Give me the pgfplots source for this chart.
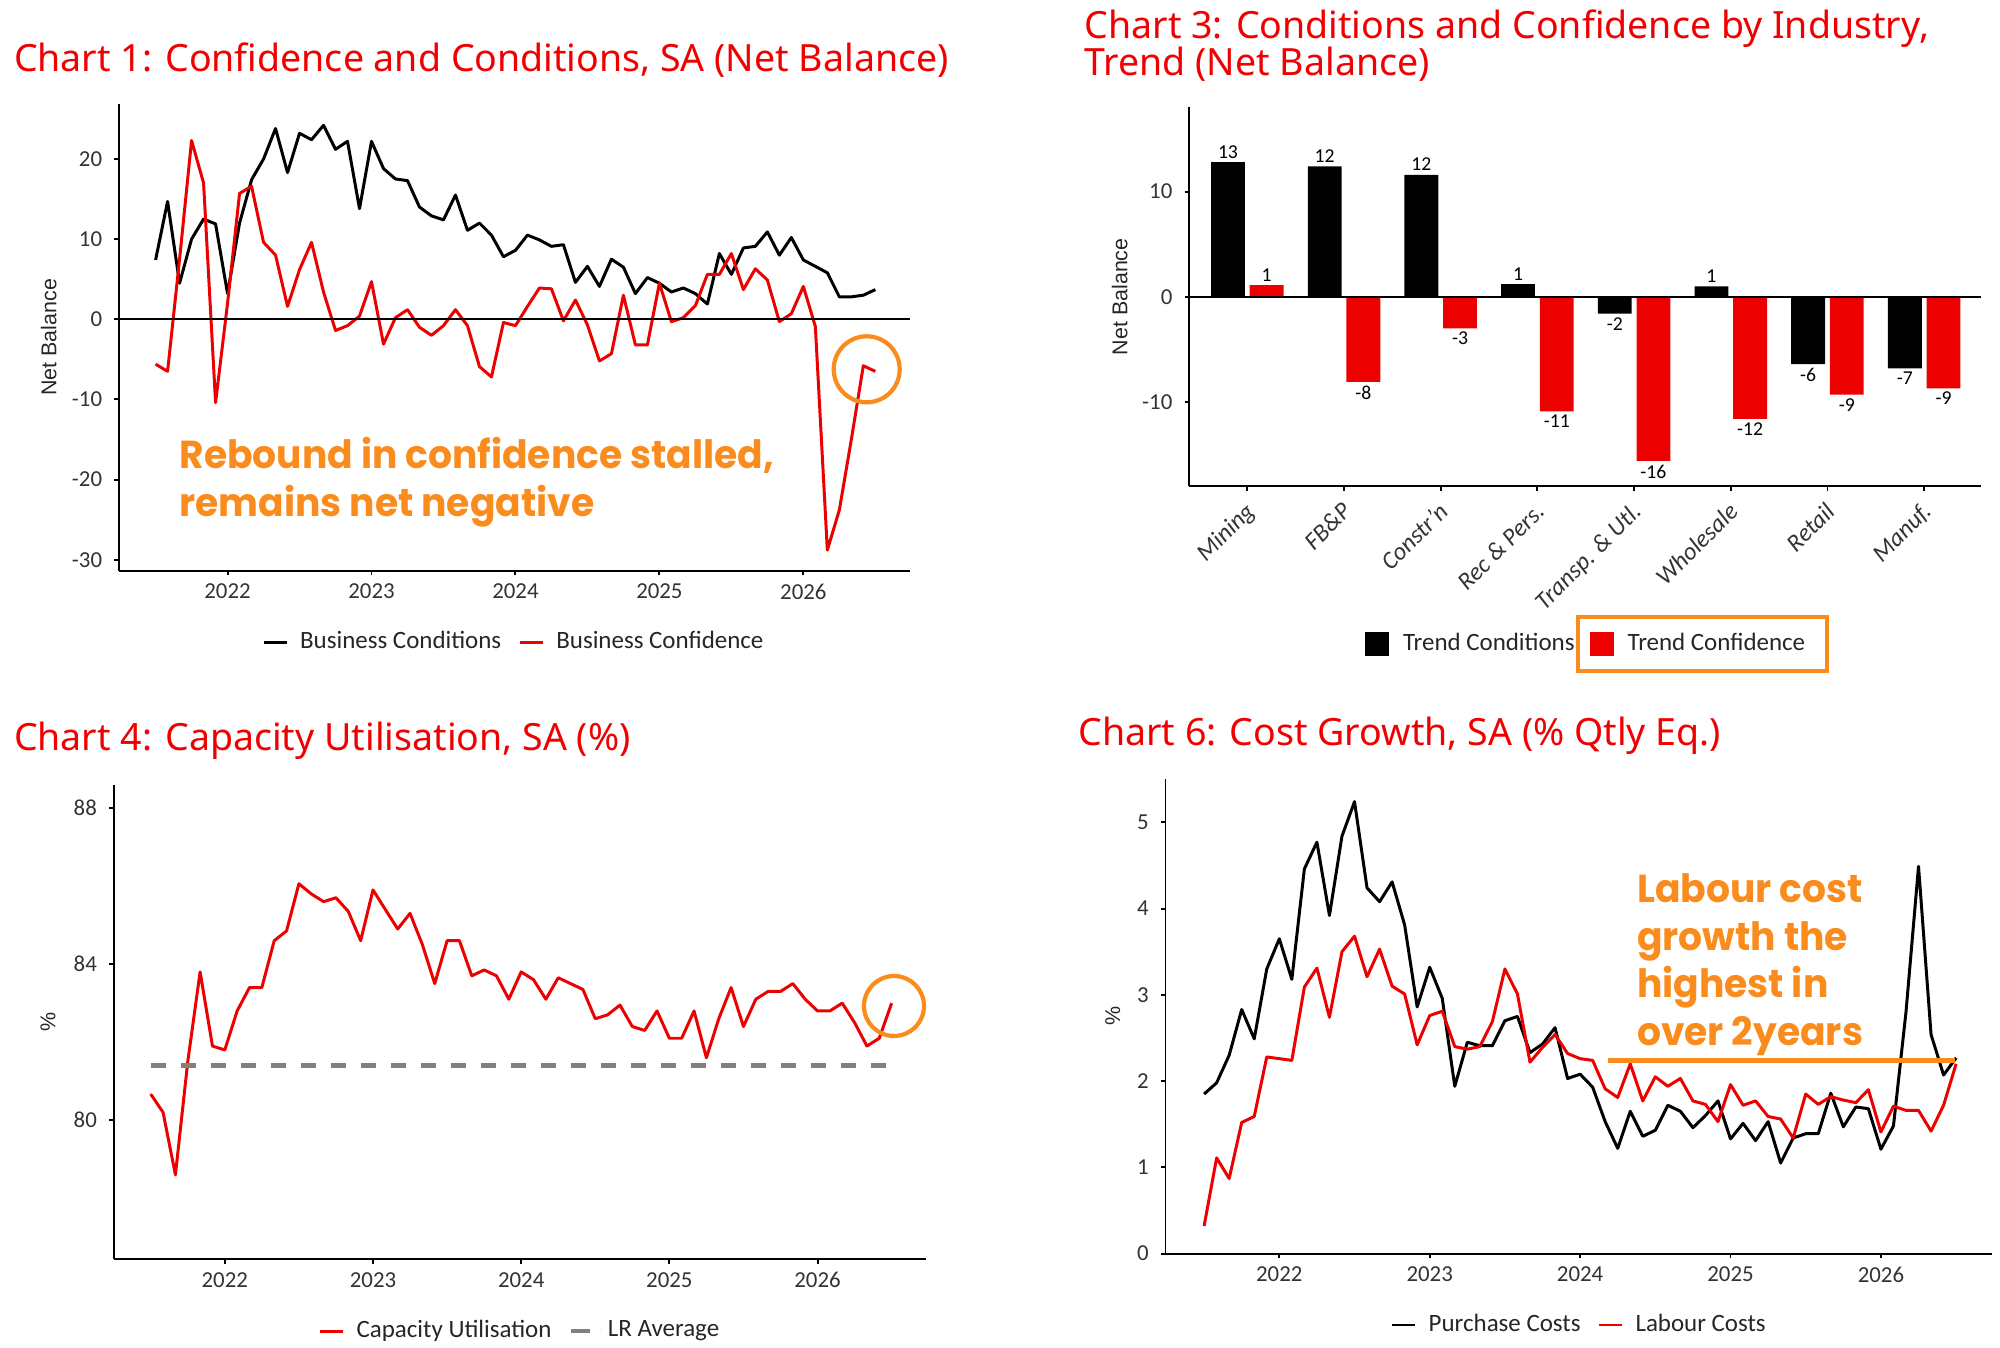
\documentclass[border=0pt]{standalone}
\usepackage{fontspec}
\usepackage{pgfplots}
\usepackage{pgfplotstable}
\pgfplotsset{compat=1.18}
\usepackage{graphicx}
\setmainfont{Carlito}
\newfontfamily\titlefont{Noto Sans}
\newfontfamily\annofont{Poppins}
\newfontfamily\arialfont{Liberation Sans}
\definecolor{cred}{RGB}{236,0,0}
\definecolor{tred}{RGB}{240,0,0}
\definecolor{corange}{RGB}{250,140,30}
\definecolor{cgray}{RGB}{128,128,128}
\newcommand\tickfont{\fontsize{6.5pt}{7pt}\selectfont}
\newcommand\legfont{\fontsize{7.1pt}{8pt}\selectfont}
\newcommand\valfont{\fontsize{5.6pt}{6pt}\selectfont}
\newcommand\ylabfont{\arialfont\fontsize{6.1pt}{7pt}\selectfont}
\newcommand\titlesz{\titlefont\fontsize{10.68pt}{12pt}\selectfont}
\newcommand\annosz{\annofont\bfseries\fontsize{11.1pt}{12pt}\selectfont}
\newcommand\anno[1]{\scalebox{0.965}[1]{#1}}

\pgfplotstableread{
i v
0 7.4
1 14.7
2 4.5
3 10.0
4 12.5
5 11.9
6 3.2
7 12.0
8 17.4
9 20.0
10 23.8
11 18.3
12 23.2
13 22.4
14 24.2
15 21.2
16 22.2
17 13.8
18 22.2
19 18.8
20 17.5
21 17.3
22 14.0
23 12.9
24 12.4
25 15.5
26 11.1
27 12.0
28 10.5
29 7.8
30 8.6
31 10.5
32 9.9
33 9.1
34 9.3
35 4.6
36 6.6
37 4.1
38 7.5
39 6.5
40 3.2
41 5.2
42 4.5
43 3.4
44 3.9
45 3.2
46 1.9
47 8.2
48 5.6
49 8.9
50 9.1
51 10.9
52 8.0
53 10.2
54 7.4
55 6.6
56 5.8
57 2.8
58 2.8
59 3.0
60 3.7
}\cbc

\pgfplotstableread{
i v
0 -5.6
1 -6.5
2 7.5
3 22.3
4 17.0
5 -10.4
6 2.0
7 15.7
8 16.6
9 9.6
10 8.0
11 1.6
12 6.2
13 9.6
14 3.4
15 -1.4
16 -0.8
17 0.4
18 4.7
19 -3.1
20 0.2
21 1.2
22 -1.0
23 -2.0
24 -0.8
25 1.2
26 -0.8
27 -5.9
28 -7.2
29 -0.4
30 -0.8
31 1.6
32 3.9
33 3.8
34 -0.2
35 2.4
36 -0.7
37 -5.2
38 -4.3
39 3.0
40 -3.2
41 -3.2
42 4.5
43 -0.3
44 0.2
45 1.7
46 5.6
47 5.6
48 8.2
49 3.7
50 6.3
51 4.9
52 -0.3
53 0.7
54 4.1
55 -0.9
56 -28.8
57 -23.8
58 -15.0
59 -5.8
60 -6.5
}\cbf

\pgfplotstableread{
i v
0 80.67
1 80.2
2 78.6
3 81.5
4 83.8
5 81.9
6 81.8
7 82.8
8 83.4
9 83.4
10 84.6
11 84.85
12 86.06
13 85.8
14 85.6
15 85.7
16 85.35
17 84.6
18 85.9
19 85.4
20 84.9
21 85.3
22 84.5
23 83.5
24 84.6
25 84.6
26 83.7
27 83.85
28 83.7
29 83.1
30 83.8
31 83.6
32 83.1
33 83.65
34 83.5
35 83.35
36 82.6
37 82.7
38 82.95
39 82.4
40 82.3
41 82.8
42 82.1
43 82.1
44 82.8
45 81.6
46 82.6
47 83.4
48 82.4
49 83.1
50 83.3
51 83.3
52 83.5
53 83.1
54 82.8
55 82.8
56 83.0
57 82.5
58 81.9
59 82.1
60 83.0
}\cu

\pgfplotstableread{
i v
0 1.85
1 1.98
2 2.30
3 2.83
4 2.49
5 3.30
6 3.65
7 3.18
8 4.46
9 4.77
10 3.92
11 4.84
12 5.24
13 4.24
14 4.08
15 4.31
16 3.81
17 2.86
18 3.32
19 2.96
20 1.94
21 2.45
22 2.41
23 2.41
24 2.70
25 2.75
26 2.33
27 2.43
28 2.62
29 2.03
30 2.08
31 1.93
32 1.53
33 1.22
34 1.65
35 1.36
36 1.43
37 1.72
38 1.65
39 1.46
40 1.60
41 1.77
42 1.33
43 1.51
44 1.31
45 1.53
46 1.05
47 1.34
48 1.39
49 1.39
50 1.86
51 1.47
52 1.70
53 1.68
54 1.21
55 1.48
56 2.80
57 4.49
58 2.54
59 2.07
60 2.27
}\pc

\pgfplotstableread{
i v
0 0.32
1 1.11
2 0.87
3 1.52
4 1.59
5 2.28
6 2.26
7 2.24
8 3.09
9 3.31
10 2.74
11 3.50
12 3.68
13 3.21
14 3.53
15 3.10
16 3.01
17 2.42
18 2.76
19 2.81
20 2.40
21 2.37
22 2.40
23 2.69
24 3.30
25 3.01
26 2.22
27 2.39
28 2.54
29 2.32
30 2.26
31 2.24
32 1.91
33 1.81
34 2.20
35 1.77
36 2.05
37 1.94
38 2.03
39 1.77
40 1.73
41 1.53
42 1.96
43 1.72
44 1.77
45 1.59
46 1.56
47 1.34
48 1.85
49 1.73
50 1.82
51 1.78
52 1.75
53 1.90
54 1.41
55 1.71
56 1.66
57 1.66
58 1.42
59 1.72
60 2.20
}\lc

\pgfplotsset{
  gg/.style={
    scale only axis,
    anchor=south west,
    axis lines*=left,
    axis line style={line width=0.55pt, black},
    tick align=outside,
    major tick length=0.045cm,
    tick style={line width=0.55pt, black},
    tick label style={font=\tickfont, text=black!80},
    xticklabel style={yshift=0.035cm},
    legend style={draw=none, fill=none, font=\legfont, anchor=center, inner sep=0pt,
      nodes={inner sep=0.05cm, text=black!85},
      /tikz/every even column/.append style={column sep=0.12cm}},
    legend cell align=left,
    legend columns=2,
    legend image code/.code={\draw[##1] (0cm,0cm) -- (0.23cm,0cm); \path (0.30cm,0cm);},
    every axis y label/.style={rotate=90, anchor=center, font=\ylabfont, text=black!85},
    clip=false,
  },
}

\begin{document}
\begin{tikzpicture}[x=1cm,y=1cm]
\path (0,0) rectangle (20,13.47);

% ---------------- Chart 1 ----------------
\node[anchor=base west, inner sep=0, text=tred, font=\titlesz] at (0.133,12.753) {Chart 1: Confidence and Conditions, SA (Net Balance)};
\begin{axis}[gg, at={(1.19cm,7.763cm)}, width=7.91cm, height=4.667cm,
  xmin=-3.05, xmax=62.89, ymin=-31.37, ymax=26.86,
  xtick={6,18,30,42,54}, xticklabels={2022,2023,2024,2025,2026},
  ytick={-30,-20,-10,0,10,20}, yticklabels={-30,-20,-10,0,10,20},
  ylabel={Net Balance}, ylabel style={at={(axis description cs:-0.0889,0.5)}},
  legend style={at={(0.501,-0.153)}},
]
\addplot[black, line width=0.85pt, line join=round] table[x=i,y=v] {\cbc};
\addlegendentry{Business Conditions}
\addplot[cred, line width=0.85pt, line join=round] table[x=i,y=v] {\cbf};
\addlegendentry{Business Confidence}
\draw[black, line width=0.55pt] (axis cs:-3.05,0) -- (axis cs:62.89,0);
\end{axis}
\node[anchor=base west, inner sep=0, text=corange, font=\annosz] at (1.788,8.787) {\anno{Rebound in confidence stalled,}};
\node[anchor=base west, inner sep=0, text=corange, font=\annosz] at (1.788,8.303) {\anno{remains net negative}};
\draw[corange, line width=1.2pt] (8.667,9.777) circle (0.33);

% ---------------- Chart 3 ----------------
\node[anchor=base west, inner sep=0, text=tred, font=\titlesz] at (10.84,13.082) {Chart 3: Conditions and Confidence by Industry,};
\node[anchor=base west, inner sep=0, text=tred, font=\titlesz] at (10.84,12.712) {Trend (Net Balance)};
\begin{axis}[gg, at={(11.893cm,8.609cm)}, width=7.919cm, height=3.786cm,
  xmin=-0.6, xmax=7.59, ymin=-18, ymax=18,
  xtick={0,1,2,3,4,5,6,7},
  xticklabels={Mining,FB\&P,Constr'n,Rec \& Pers.,Transp. \& Utl.,Wholesale,Retail,Manuf.},
  xticklabel style={rotate=45, anchor=north east, yshift=0.05cm, font={\fontsize{7pt}{8pt}\selectfont\itshape}},
  ytick={-10,0,10}, yticklabels={-10,0,10},
  ylabel={Net Balance}, ylabel style={at={(axis description cs:-0.088,0.5)}},
  legend style={at={(0.503,-0.417)}, /tikz/every even column/.append style={column sep=0.1cm}},
  legend image code/.code={\fill[#1] (0cm,-0.12cm) rectangle (0.24cm,0.12cm); \path (0.33cm,0cm);},
  point meta=y,
  nodes near coords={\pgfmathprintnumber[fixed, precision=0, assume math mode=true]{\pgfplotspointmeta}},
  nodes near coords align={vertical},
  every node near coord/.append style={font=\valfont, inner sep=0.9pt, text=black},
]
% bars plotted at category position -0.2 (conditions) and +0.2 (confidence)
\addplot[ybar, bar width=0.35, bar shift=0, fill=black, draw=none] coordinates {
(-0.2,12.8) (0.8,12.4) (1.8,11.6) (2.8,1.2) (3.8,-1.6) (4.8,1.0) (5.8,-6.4) (6.8,-6.8)};
\addlegendentry{Trend Conditions}
\addplot[ybar, bar width=0.35, bar shift=0, fill=cred, draw=none] coordinates {
(0.2,1.1) (1.2,-8.1) (2.2,-3.0) (3.2,-10.9) (4.2,-15.6) (5.2,-11.6) (6.2,-9.3) (7.2,-8.7)};
\addlegendentry{Trend Confidence}
\draw[black, line width=0.55pt] (axis cs:-0.6,0) -- (axis cs:7.59,0);
\end{axis}
\draw[corange, line width=1.4pt] (15.78,7.30) rectangle (18.27,6.76);

% ---------------- Chart 4 ----------------
\node[anchor=base west, inner sep=0, text=tred, font=\titlesz] at (0.133,5.965) {Chart 4: Capacity Utilisation, SA (\%)};
\begin{axis}[gg, at={(1.138cm,0.879cm)}, width=8.119cm, height=4.737cm,
  xmin=-2.99, xmax=62.76, ymin=76.44, ymax=88.58,
  xtick={6,18,30,42,54}, xticklabels={2022,2023,2024,2025,2026},
  ytick={80,84,88}, yticklabels={80,84,88},
  ylabel={\%}, ylabel style={at={(axis description cs:-0.081,0.5)}},
  legend style={at={(0.502,-0.152)}},
]
\addplot[cred, line width=0.85pt, line join=round] table[x=i,y=v] {\cu};
\addlegendentry{Capacity Utilisation}
\addplot[cgray, line width=1.25pt, dash pattern=on 0.15cm off 0.15cm,
  legend image code/.code={\path (0cm,0cm) -- (0.30cm,0cm); \draw[cgray, line width=1.25pt] (0.05cm,0cm) -- (0.19cm,0cm);}]
  coordinates {(0,81.4) (60,81.4)};
\addlegendentry{LR Average}
\end{axis}
\draw[corange, line width=1.2pt] (8.94,3.41) circle (0.30);

% ---------------- Chart 6 ----------------
\node[anchor=base west, inner sep=0, text=tred, font=\titlesz] at (10.778,6.016) {Chart 6: Cost Growth, SA (\% Qtly Eq.)};
\begin{axis}[gg, at={(11.655cm,0.934cm)}, width=8.262cm, height=4.744cm,
  xmin=-3.08, xmax=62.84, ymin=0, ymax=5.5,
  xtick={6,18,30,42,54}, xticklabels={2022,2023,2024,2025,2026},
  ytick={0,1,2,3,4,5}, yticklabels={0,1,2,3,4,5},
  ylabel={\%}, ylabel style={at={(axis description cs:-0.064,0.5)}},
  legend style={at={(0.5026,-0.1505)}},
]
\addplot[black, line width=0.85pt, line join=round] table[x=i,y=v] {\pc};
\addlegendentry{Purchase Costs}
\addplot[cred, line width=0.85pt, line join=round] table[x=i,y=v] {\lc};
\addlegendentry{Labour Costs}
\draw[corange, line width=1.25pt] (axis cs:32.24,2.237) -- (axis cs:59.9,2.237);
\end{axis}
\node[anchor=base west, inner sep=0, text=corange, font=\annosz] at (16.364,4.446) {\anno{Labour cost}};
\node[anchor=base west, inner sep=0, text=corange, font=\annosz] at (16.364,3.968) {\anno{growth the}};
\node[anchor=base west, inner sep=0, text=corange, font=\annosz] at (16.364,3.490) {\anno{highest in}};
\node[anchor=base west, inner sep=0, text=corange, font=\annosz] at (16.364,3.012) {\anno{over 2years}};
\end{tikzpicture}
\end{document}
